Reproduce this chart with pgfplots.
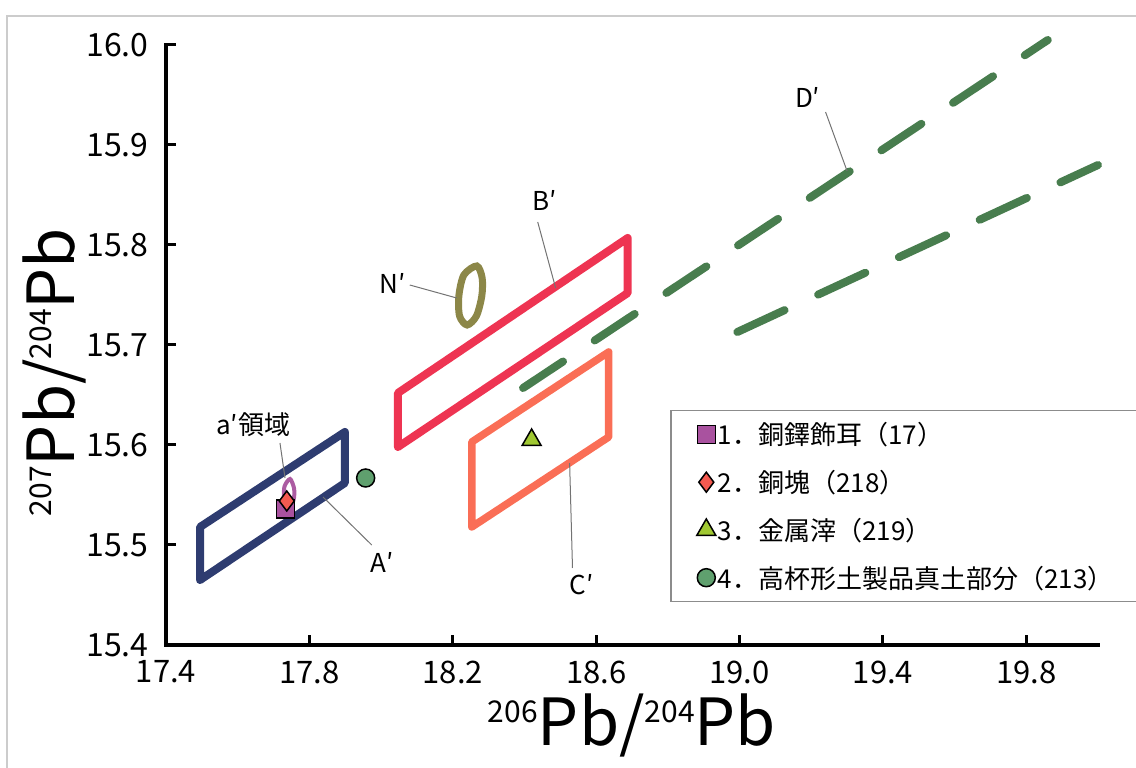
\documentclass[border=0pt]{standalone}
\usepackage{fontspec}
\usepackage{pgfplots}
\pgfplotsset{compat=1.18}
\setmainfont{Noto Sans CJK JP}
\newfontfamily\cjk{Noto Sans CJK JP}
\definecolor{cA}{RGB}{46,60,112}
\definecolor{cB}{RGB}{238,52,82}
\definecolor{cC}{RGB}{250,110,86}
\definecolor{cN}{RGB}{140,135,72}
\definecolor{ca}{RGB}{172,92,162}
\definecolor{cD}{RGB}{72,125,78}
\definecolor{mSq}{RGB}{169,82,159}
\definecolor{mDi}{RGB}{244,90,80}
\definecolor{mTr}{RGB}{160,200,50}
\definecolor{mCi}{RGB}{95,160,110}
\newcommand{\lblfont}{\cjk\fontsize{26}{26}\selectfont}
\begin{document}
\begin{tikzpicture}
\path[use as bounding box] (-166pt,-123pt) rectangle (970pt,645pt);
\draw[black!20, line width=1.5pt] (-159pt,-130pt) -- (-159pt,629pt) -- (980pt,629pt);
\begin{axis}[
  at={(0pt,0pt)}, anchor=south west, scale only axis,
  width=932pt, height=600pt,
  xmin=17.4, xmax=20.0, ymin=15.4, ymax=16.0,
  axis x line=bottom, axis y line=left,
  axis line style={-, line width=4pt, line cap=rect},
  xtick={17.4,17.8,18.2,18.6,19.0,19.4,19.8},
  xticklabels={17.4,17.8,18.2,18.6,19.0,19.4,19.8},
  ytick={15.4,15.5,15.6,15.7,15.8,15.9,16.0},
  yticklabels={15.4,15.5,15.6,15.7,15.8,15.9,16.0},
  tick align=inside, major tick length=10pt,
  tick style={line width=3pt, black},
  xticklabel style={font=\cjk\fontsize{31}{31}\selectfont, yshift=-12pt},
  yticklabel style={font=\cjk\fontsize{32}{32}\selectfont, xshift=-14pt},
  xlabel={\fontsize{30}{30}\selectfont\raisebox{23pt}{206}\fontsize{65}{65}\selectfont Pb/\fontsize{30}{30}\selectfont\raisebox{23pt}{204}\fontsize{65}{65}\selectfont Pb},
  ylabel={\fontsize{30}{30}\selectfont\raisebox{23pt}{207}\fontsize{65}{65}\selectfont Pb/\fontsize{30}{30}\selectfont\raisebox{23pt}{204}\fontsize{65}{65}\selectfont Pb},
  xlabel style={at={(axis description cs:0.50,-0.167)}, anchor=base, inner sep=0pt},
  ylabel style={at={(axis description cs:-0.098,0.455)}, anchor=base, rotate=0, inner sep=0pt},
  clip=false,
  legend style={at={(axis description cs:0.5408,0.392)}, anchor=north west,
    draw=black!45, line width=1.5pt, font=\cjk\fontsize{26}{26}\selectfont,
    row sep=20pt, inner xsep=26pt, inner ysep=10pt},
  legend cell align=left,
]
% A'
\addplot[cA, line width=8pt, line join=round, line cap=round, forget plot]
  coordinates {(17.495,15.465) (17.495,15.518) (17.899,15.613) (17.899,15.562) (17.495,15.465)};
% a' region
\addplot[ca, line width=4pt, smooth cycle, forget plot]
  coordinates {(17.746,15.566) (17.757,15.557) (17.757,15.547) (17.748,15.539) (17.734,15.539) (17.729,15.549) (17.731,15.559)};
% B'
\addplot[cB, line width=8pt, line join=round, line cap=round, forget plot]
  coordinates {(18.047,15.598) (18.047,15.652) (18.688,15.807) (18.688,15.752) (18.047,15.598)};
% C'
\addplot[cC, line width=7.5pt, line join=round, line cap=round, forget plot]
  coordinates {(18.253,15.518) (18.253,15.603) (18.635,15.693) (18.635,15.608) (18.253,15.518)};
% N'
\addplot[cN, line width=7pt, smooth cycle, forget plot]
  coordinates {(18.267,15.779) (18.282,15.767) (18.281,15.749) (18.266,15.729) (18.240,15.720) (18.219,15.729) (18.217,15.749) (18.231,15.770)};
% D'
\addplot[cD, line width=8pt, line cap=round, dash pattern=on 48pt off 38pt, forget plot]
  coordinates {(18.396,15.657) (19.86,16.005)};
\addplot[cD, line width=8pt, line cap=round, dash pattern=on 52pt off 37pt, forget plot]
  coordinates {(18.994,15.713) (20.0,15.88)};
% samples
\addplot[only marks, mark=square*, mark size=9pt, mark options={fill=mSq, draw=black, line width=1.5pt}]
  coordinates {(17.734,15.536)};
\addlegendentry{\makebox[420pt][l]{1．銅鐸飾耳（17）}}
\addplot[only marks, mark=diamond*, mark size=10pt, mark options={fill=mDi, draw=black, line width=1.5pt}]
  coordinates {(17.737,15.544)};
\addlegendentry{\makebox[420pt][l]{2．銅塊（218）}}
\addplot[only marks, mark=triangle*, mark size=11pt, mark options={fill=mTr, draw=black, line width=1.5pt}]
  coordinates {(18.42,15.605)};
\addlegendentry{\makebox[420pt][l]{3．金属滓（219）}}
\addplot[only marks, mark=*, mark size=9pt, mark options={fill=mCi, draw=black, line width=1.5pt}]
  coordinates {(17.957,15.567)};
\addlegendentry{\makebox[420pt][l]{4．高杯形土製品真土部分（213）}}
% labels
\draw[black!55, line width=1pt] (axis cs:19.24,15.933) -- (axis cs:19.30,15.874);
\node[font=\lblfont] at (axis cs:19.19,15.948) {D′};
\draw[black!55, line width=1pt] (axis cs:18.437,15.823) -- (axis cs:18.487,15.757);
\node[font=\lblfont] at (axis cs:18.456,15.845) {B′};
\draw[black!55, line width=1pt] (axis cs:18.08,15.76) -- (axis cs:18.211,15.747);
\node[font=\lblfont] at (axis cs:18.033,15.762) {N′};
\draw[black!55, line width=1pt] (axis cs:17.718,15.602) -- (axis cs:17.732,15.567);
\node[font=\lblfont] at (axis cs:17.643,15.62) {a′領域};
\draw[black!55, line width=1pt] (axis cs:17.974,15.50) -- (axis cs:17.838,15.548);
\node[font=\lblfont] at (axis cs:18.002,15.483) {A′};
\draw[black!55, line width=1pt] (axis cs:18.534,15.477) -- (axis cs:18.526,15.582);
\node[font=\lblfont] at (axis cs:18.56,15.46) {C′};
\end{axis}
\end{tikzpicture}
\end{document}
